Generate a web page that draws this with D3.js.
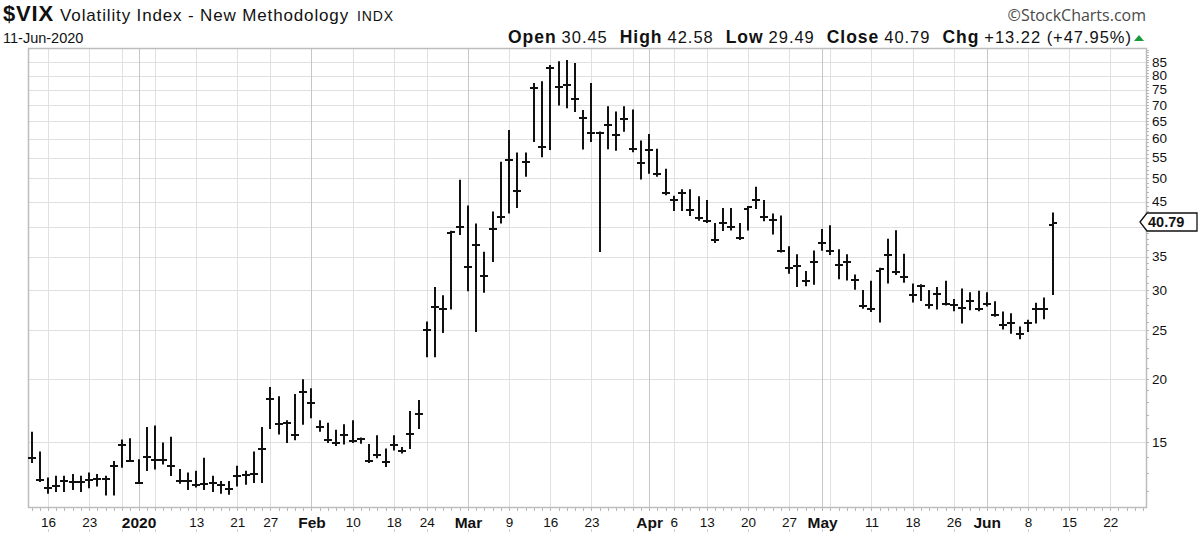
<!DOCTYPE html>
<html>
<head>
<meta charset="utf-8">
<script src="https://d3js.org/d3.v7.min.js"></script>
<style>
  body { margin: 0; background: #fff; }
  svg text { font-family: "Liberation Sans", Arial, sans-serif; fill: #111; }
  .grid line { stroke: #e0e0e0; stroke-width: 1; }
  .grid line.month { stroke: #c6c6c6; }
  .bar line { stroke: #111; stroke-width: 2; }
  .minor line { stroke: #b8b8b8; }
</style>
</head>
<body>
<svg width="1200" height="535"></svg>
<script>
// trading calendar (weekdays minus market holidays)
var firstDay = "2019-12-12", lastDay = "2020-06-26";
var holidays = ["2019-12-25", "2020-01-01", "2020-01-20", "2020-02-17", "2020-04-10", "2020-05-25"];

// OHLC, one value per trading day from 12-Dec-2019
var open = [13.94,12.63,12.14,12.29,12.58,12.50,12.51,12.61,12.67,12.65,13.43,14.82,13.78,12.47,14.02,13.85,13.79,13.45,12.54,12.56,
  12.32,12.39,12.42,12.32,12.10,12.85,12.91,12.98,14.56,18.23,16.28,16.39,15.49,18.84,17.97,16.05,15.15,14.96,15.47,15.04,
  15.18,13.74,14.15,13.68,14.83,14.38,15.56,17.08,25.03,27.85,27.56,39.00,40.11,33.42,36.82,31.99,39.62,41.94,54.46,47.30,
  53.90,75.47,57.83,82.69,75.91,76.45,72.00,66.04,61.59,61.67,63.95,61.00,65.54,57.08,53.54,57.06,50.91,46.80,45.24,46.70,
  43.35,41.67,41.17,37.76,40.84,40.11,38.15,43.50,45.41,41.98,41.38,35.93,33.29,33.57,31.23,34.15,37.19,35.97,33.61,34.12,
  31.44,27.98,27.57,32.80,35.28,32.61,31.89,29.30,30.53,27.99,29.53,28.16,28.01,27.62,28.59,27.51,28.23,26.84,25.66,25.81,
  24.52,25.81,27.57,27.57,40.50];
var high = [15.65,14.30,12.70,12.80,12.80,12.90,12.80,13.00,12.90,12.80,13.70,15.10,15.20,13.80,16.00,16.10,14.90,15.30,13.20,13.00,
  13.10,13.90,12.80,12.50,12.50,13.40,13.10,14.30,16.00,19.20,18.40,16.50,18.60,19.90,19.10,16.50,16.30,15.80,16.20,16.50,
  15.25,14.80,15.40,14.50,15.40,14.60,17.20,18.10,25.90,30.30,29.20,39.20,49.50,44.00,40.50,35.60,42.80,53.70,62.10,56.00,
  56.00,77.00,77.60,83.60,85.00,85.50,84.30,68.00,77.00,61.70,69.20,67.60,69.20,68.20,59.20,61.00,57.00,52.00,46.00,47.40,
  47.40,45.90,45.10,40.60,43.50,43.50,40.60,43.90,47.90,45.10,42.40,42.00,36.50,35.20,32.60,35.80,39.50,40.20,36.00,35.20,
  32.10,29.90,31.20,33.10,37.80,39.30,35.30,30.80,30.70,29.90,30.30,31.20,28.70,30.10,29.60,29.80,29.60,28.40,27.10,26.90,
  25.30,26.10,28.20,28.90,42.58];
var low = [13.70,12.55,11.90,12.00,12.00,12.10,12.00,12.20,12.30,11.80,11.80,13.40,13.75,12.45,13.20,13.30,13.60,12.90,12.45,12.10,
  12.25,12.10,12.00,11.90,11.85,12.30,12.40,12.50,12.50,16.00,15.60,15.00,15.20,16.30,16.80,15.80,15.00,14.80,14.90,15.00,
  14.95,13.70,14.00,13.45,14.50,14.30,14.60,16.00,22.20,22.20,24.80,27.60,38.80,30.00,24.90,29.80,34.30,40.90,42.80,43.90,
  50.60,59.30,55.30,57.20,70.10,69.20,68.00,57.30,59.30,35.90,57.40,57.00,62.20,56.60,50.00,51.30,50.60,46.50,43.30,43.30,
  42.30,41.40,41.00,37.40,39.50,39.60,37.90,39.60,43.70,41.30,38.90,35.80,32.50,30.60,30.70,30.90,36.10,35.40,31.70,31.50,
  30.20,27.70,27.30,26.00,31.10,32.30,31.20,28.50,28.70,27.70,27.60,28.10,27.40,25.90,27.50,27.40,28.00,26.70,25.20,24.70,
  24.10,24.90,25.90,26.40,29.49];
var close = [13.94,12.63,12.14,12.29,12.58,12.50,12.51,12.61,12.67,12.65,13.43,14.82,13.78,12.47,14.02,13.85,13.79,13.45,12.54,12.56,
  12.32,12.39,12.42,12.32,12.10,12.85,12.91,12.98,14.56,18.23,16.28,16.39,15.49,18.84,17.97,16.05,15.15,14.96,15.47,15.04,
  15.18,13.74,14.15,13.68,14.83,14.38,15.56,17.08,25.03,27.85,27.56,39.16,40.11,33.42,36.82,31.99,39.62,41.94,54.46,47.30,
  53.90,75.47,57.83,82.69,75.91,76.45,72.00,66.04,61.59,61.67,63.95,61.00,65.54,57.08,53.54,57.06,50.91,46.80,45.24,46.70,
  43.35,41.67,41.17,37.76,40.84,40.11,38.15,43.83,45.41,41.98,41.38,35.93,33.29,33.57,31.23,34.15,37.19,35.97,33.61,34.12,
  31.44,27.98,27.57,33.04,35.28,32.61,31.89,29.30,30.53,27.99,29.53,28.16,28.01,27.62,28.59,27.51,28.23,26.84,25.66,25.81,
  24.52,25.81,27.57,27.57,40.79];

// axis ticks
var xTickDates = ["2019-12-16","2019-12-23","2020-01-02","2020-01-13","2020-01-21","2020-01-27","2020-02-03","2020-02-10",
  "2020-02-18","2020-02-24","2020-03-02","2020-03-09","2020-03-16","2020-03-23","2020-04-01","2020-04-06","2020-04-13",
  "2020-04-20","2020-04-27","2020-05-01","2020-05-11","2020-05-18","2020-05-26","2020-06-01","2020-06-08","2020-06-15","2020-06-22"];
var xTickLabels = ["16","23","2020","13","21","27","Feb","10","18","24","Mar","9","16","23","Apr","6","13",
  "20","27","May","11","18","26","Jun","8","15","22"];
var gridDates = ["2019-12-16","2019-12-23","2019-12-30","2020-01-02","2020-01-06","2020-01-13","2020-01-21","2020-01-27",
  "2020-02-03","2020-02-10","2020-02-18","2020-02-24","2020-03-02","2020-03-09","2020-03-16","2020-03-23","2020-03-30",
  "2020-04-01","2020-04-06","2020-04-13","2020-04-20","2020-04-27","2020-05-01","2020-05-04","2020-05-11","2020-05-18",
  "2020-05-26","2020-06-01","2020-06-08","2020-06-15","2020-06-22"];
var monthDates = ["2020-01-02","2020-02-03","2020-03-02","2020-04-01","2020-05-01","2020-06-01"];
var yTicks = [15,20,25,30,35,40,45,50,55,60,65,70,75,80,85];

var parse = d3.timeParse("%Y-%m-%d"), fmt = d3.timeFormat("%Y-%m-%d");
var days = d3.timeDay.range(parse(firstDay), d3.timeDay.offset(parse(lastDay), 1))
  .filter(function(d) { return d.getDay() % 6 !== 0 && holidays.indexOf(fmt(d)) < 0; })
  .map(fmt);

var data = close.map(function(c, i) {
  return {date: days[i], o: open[i], h: high[i], l: low[i], c: c};
});

var svg = d3.select("svg"),
    plot = {left: 28, right: 1146, top: 49, bottom: 508};

var x = d3.scalePoint().domain(days).range([31.5, 1143.2]),
    y = d3.scaleLog().domain([11.1, 90.3]).range([plot.bottom, plot.top]);

function isWord(i) { return !/^[0-9]+$/.test(xTickLabels[i]) || xTickLabels[i] === "2020"; }

// grid
var grid = svg.append("g").attr("class", "grid");
grid.selectAll(".h").data(yTicks).enter().append("line")
  .attr("x1", plot.left).attr("x2", plot.right)
  .attr("y1", function(d) { return Math.round(y(d)) + 0.5; })
  .attr("y2", function(d) { return Math.round(y(d)) + 0.5; });
grid.selectAll(".v").data(gridDates).enter().append("line")
  .attr("class", function(d) { return monthDates.indexOf(d) >= 0 ? "month" : null; })
  .attr("x1", function(d) { return Math.round(x(d)) + 0.5; })
  .attr("x2", function(d) { return Math.round(x(d)) + 0.5; })
  .attr("y1", plot.top).attr("y2", plot.bottom);

// frame
svg.append("rect")
  .attr("x", plot.left + 0.5).attr("y", plot.top - 0.5)
  .attr("width", plot.right - plot.left).attr("height", plot.bottom - plot.top)
  .attr("fill", "none").attr("stroke", "#bdbdbd").attr("stroke-width", 1.5);

// minor ticks
var minor = svg.append("g").attr("class", "minor");
minor.selectAll(".dx").data(days).enter().append("line")
  .attr("x1", function(d) { return Math.round(x(d)) + 0.5; })
  .attr("x2", function(d) { return Math.round(x(d)) + 0.5; })
  .attr("y1", plot.bottom).attr("y2", plot.bottom + 3);
minor.selectAll(".dy").data(d3.range(12, 91)).enter().append("line")
  .attr("x1", plot.right).attr("x2", plot.right + 3)
  .attr("y1", function(d) { return Math.round(y(d)) + 0.5; })
  .attr("y2", function(d) { return Math.round(y(d)) + 0.5; });
// little marks under the date labels
minor.selectAll(".gx").data(gridDates).enter().append("line")
  .attr("x1", function(d) { return Math.round(x(d)) + 0.5; })
  .attr("x2", function(d) { return Math.round(x(d)) + 0.5; })
  .attr("y1", 529).attr("y2", 532).style("stroke", "#d0d0d0");

// axes
var xAxis = svg.append("g")
  .attr("transform", "translate(0," + plot.bottom + ")")
  .call(d3.axisBottom(x).tickValues(xTickDates)
    .tickFormat(function(d, i) { return xTickLabels[i]; })
    .tickSize(0).tickPadding(9));
xAxis.select(".domain").remove();
xAxis.selectAll("text")
  .attr("fill", "#111")
  .style("font-family", "'Liberation Sans', Arial, sans-serif")
  .attr("font-weight", function(d, i) { return isWord(i) ? "bold" : "normal"; })
  .attr("font-size", function(d, i) { return isWord(i) ? 15.5 : 13.5; });

var yAxis = svg.append("g")
  .attr("transform", "translate(" + plot.right + ",0)")
  .call(d3.axisRight(y).tickValues(yTicks.filter(function(v) { return v !== 40; }))
    .tickFormat(d3.format("d")).tickSize(0).tickPadding(6));
yAxis.select(".domain").remove();
yAxis.selectAll("text").attr("font-size", 13.5).attr("fill", "#111")
  .style("font-family", "'Liberation Sans', Arial, sans-serif");

// OHLC bars
var bars = svg.append("g").attr("class", "bar")
  .selectAll("g").data(data).enter().append("g")
  .attr("transform", function(d) { return "translate(" + Math.round(x(d.date)) + ",0)"; });
bars.append("line")
  .attr("x1", 0).attr("x2", 0)
  .attr("y1", function(d) { return y(d.h) - 1; })
  .attr("y2", function(d) { return y(d.l) + 1; });
bars.append("line")
  .attr("x1", -4).attr("x2", 0)
  .attr("y1", function(d) { return Math.round(y(d.o)); })
  .attr("y2", function(d) { return Math.round(y(d.o)); });
bars.append("line")
  .attr("x1", 0).attr("x2", 4)
  .attr("y1", function(d) { return Math.round(y(d.c)); })
  .attr("y2", function(d) { return Math.round(y(d.c)); });

// last price marker
var last = data[data.length - 1], ly = Math.round(y(last.c)) - 1;
svg.append("path")
  .attr("d", "M1140," + ly + " L1147," + (ly - 9) + " H1197 V" + (ly + 9) + " H1147 Z")
  .attr("fill", "#fff").attr("stroke", "#111").attr("stroke-width", 1.3);
svg.append("text")
  .attr("x", 1148).attr("y", ly + 5)
  .attr("font-size", 14.5).attr("font-weight", "bold")
  .text(d3.format(".2f")(last.c));

// header
var title = svg.append("text").attr("x", 3).attr("y", 21)
  .attr("textLength", 390).attr("lengthAdjust", "spacing");
title.append("tspan").attr("font-size", 22).attr("font-weight", "bold").text("$VIX");
title.append("tspan").attr("font-size", 17).attr("dx", 6).text("Volatility Index - New Methodology");
title.append("tspan").attr("font-size", 14).attr("dx", 8).text("INDX");

svg.append("text").attr("x", 3).attr("y", 43).attr("font-size", 14.5).text("11-Jun-2020");

svg.append("text").attr("x", 1146).attr("y", 21).attr("text-anchor", "end")
  .attr("font-size", 16).style("font-family", "'Open Sans', 'Noto Sans', sans-serif")
  .style("fill", "#4a4a4a").text("\u00a9StockCharts.com");

var quote = svg.append("text").attr("x", 508).attr("y", 43)
  .attr("textLength", 623).attr("lengthAdjust", "spacing");
[["Open", "30.45"], ["High", "42.58"], ["Low", "29.49"], ["Close", "40.79"], ["Chg", "+13.22 (+47.95%)"]]
  .forEach(function(p, i) {
    quote.append("tspan").attr("font-weight", "bold").attr("font-size", 17.5).attr("dx", i ? 12 : 0).text(p[0]);
    quote.append("tspan").attr("font-size", 16.5).attr("dx", 5).text(p[1]);
  });
svg.append("path").attr("d", "M1134,41 L1144,41 L1139,35 Z").attr("fill", "#1a9a3a");
</script>
</body>
</html>
